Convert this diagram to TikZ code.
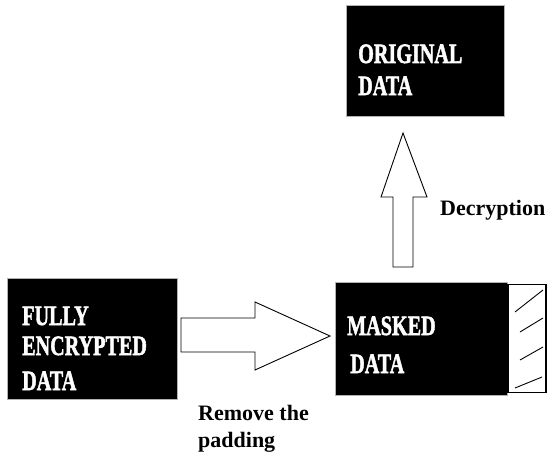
\documentclass[tikz,border=0pt]{standalone}
\usepackage{fontspec}
\setmainfont{Liberation Serif}
\newfontfamily\boxfont[BoldFeatures={FakeBold=2}]{Liberation Serif}
\newcommand{\bxt}[1]{\scalebox{0.72}[1]{#1}}
\begin{document}
\begin{tikzpicture}[x=1pt,y=-1pt,
  blackbox/.style={draw=gray!60,line width=0.6pt,fill=black,inner sep=0pt},
  boxtext/.style={anchor=base west,inner sep=0pt,text=white,font=\boxfont\bfseries\fontsize{28}{30}\selectfont},
  labeltext/.style={anchor=base west,inner sep=0pt,text=black,font=\bfseries\fontsize{22}{24}\selectfont},
  blockarrow/.style={draw=black,line width=0.9pt,fill=white,line join=miter},
  hatch/.style={draw=black,line width=0.9pt}
]
\useasboundingbox (0,0) rectangle (548,460);
% boxes
\node[blackbox,minimum width=158,minimum height=111] (orig) at (425,60.5) {};
\node[blackbox,minimum width=170,minimum height=121] (full) at (92,338.5) {};
\node[blackbox,minimum width=172,minimum height=113] (mask) at (421,338.5) {};
\node[draw=black,line width=1.2pt,fill=white,minimum width=38,minimum height=108,inner sep=0pt,anchor=west] (pad) at (mask.east) {};
% hatch strokes
\draw[hatch] (515,312) -- (543,290);
\draw[hatch] (520,332) -- (543,318);
\draw[hatch] (520,360) -- (543,347);
\draw[hatch] (515,388) -- (542,377);
% texts in boxes
\node[boxtext] (t1) at (358,63) {\bxt{ORIGINAL}};
\node[boxtext] (t2) at (358,95) {\bxt{DATA}};
\node[boxtext] (t3) at (22,325) {\bxt{FULLY}};
\node[boxtext] (t4) at (22,355) {\bxt{ENCRYPTED}};
\node[boxtext] (t5) at (22,390) {\bxt{DATA}};
\node[boxtext] (t6) at (347,335) {\bxt{MASKED}};
\node[boxtext] (t7) at (350,373) {\bxt{DATA}};
% labels
\node[labeltext] (l1) at (440,215) {Decryption};
\node[labeltext] (l2) at (198,420) {Remove the};
\node[labeltext] (l3) at (198,447) {padding};
% block arrows
\coordinate (rtip) at (330,336);
\draw[blockarrow] (181,318) -- (255,318) -- (255,302) -- (rtip) -- (255,370) -- (255,352) -- (181,352) -- cycle;
\coordinate (utip) at (403,133);
\draw[blockarrow] (393,267) -- (393,197) -- (381,197) -- (utip) -- (427,197) -- (413,197) -- (413,267) -- cycle;
\end{tikzpicture}
\end{document}
